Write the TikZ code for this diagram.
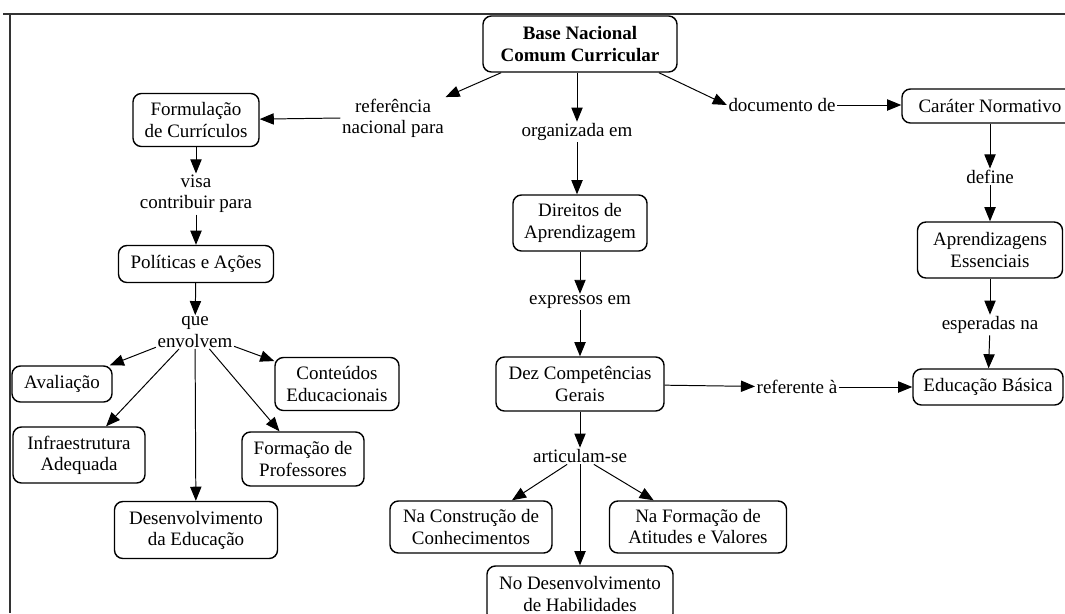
\documentclass[tikz,border=0pt]{standalone}
\usepackage{fontspec}
\setmainfont{Liberation Serif}
\usepackage{tikz}
\usetikzlibrary{arrows.meta, positioning}

\newcommand{\mapfont}{\fontsize{13.5}{15}\selectfont}

\begin{document}
\begin{tikzpicture}[
  x=0.025cm, y=-0.025cm,
  box/.style={draw, line width=1pt, rounded corners=6pt, align=center,
              inner sep=2pt, font=\mapfont},
  link/.style={align=center, inner sep=1pt, font=\mapfont},
  arrow/.style={-{Triangle[length=10pt,width=8pt]}, line width=0.7pt},
]
\useasboundingbox (0,0) rectangle (1065,613);

% Moldura
\draw[line width=1.3pt, black!80] (3,14) -- (1065,14);
\draw[line width=1.3pt, black!80] (10,14) -- (10,613);

% Conceitos
\node[box, font=\mapfont\bfseries, minimum width=4.85cm, minimum height=1.4cm] (bncc) at (580,44) {Base Nacional\\Comum Curricular};
\node[box, minimum width=3.15cm,  minimum height=1.325cm] (form)   at (196,120) {Formulação\\de Currículos};
\node[box, minimum width=4.4cm,   minimum height=0.85cm]  (car)    at (990,106) {Caráter Normativo};
\node[box, minimum width=3.35cm,  minimum height=1.4cm]   (dir)    at (580,223) {Direitos de\\Aprendizagem};
\node[box, minimum width=3.625cm, minimum height=1.4cm]   (apr)    at (990,250) {Aprendizagens\\Essenciais};
\node[box, minimum width=3.875cm, minimum height=0.925cm] (pol)    at (196,264) {Políticas e Ações};
\node[box, minimum width=2.5cm,   minimum height=0.9cm]   (aval)   at (62,384)  {Avaliação};
\node[box, minimum width=3.1cm,   minimum height=1.325cm] (cont)   at (337,384) {Conteúdos\\Educacionais};
\node[box, minimum width=4.2cm,   minimum height=1.35cm]  (dez)    at (580,384) {Dez Competências\\Gerais};
\node[box, minimum width=3.75cm,  minimum height=0.9cm]   (edb)    at (988,387) {Educação Básica};
\node[box, minimum width=3.3cm,   minimum height=1.4cm]   (infra)  at (79,455)  {Infraestrutura\\Adequada};
\node[box, minimum width=3.05cm,  minimum height=1.35cm]  (fprof)  at (303,459) {Formação de\\Professores};
\node[box, minimum width=4.075cm, minimum height=1.425cm] (desenv) at (196,530) {Desenvolvimento\\da Educação};
\node[box, minimum width=4.05cm,  minimum height=1.3cm]   (nacon)  at (471,527) {Na Construção de\\Conhecimentos};
\node[box, minimum width=4.425cm, minimum height=1.3cm]   (nafor)  at (698,527) {Na Formação de\\Atitudes e Valores};
\node[box, minimum width=4.65cm,  minimum height=1.4cm]   (hab)    at (580,594) {No Desenvolvimento\\de Habilidades};

% Frases de ligação
\node[link] (ref)    at (393,118) {referência\\nacional para};
\node[link] (org)    at (577,132) {organizada em};
\node[link] (doc)    at (782,105) {documento de};
\node[link] (visa)   at (196,194) {visa\\contribuir para};
\node[link] (define) at (990,177) {define};
\node[link] (exp)    at (580,302) {expressos em};
\node[link] (esp)    at (990,325) {esperadas na};
\node[link] (env)    at (195,332) {que\\envolvem};
\node[link] (refe)   at (797,387) {referente à};
\node[link] (art)    at (580,456) {articulam-se};

% Setas
\draw[arrow] (bncc.200) -- (ref.north east);
\draw[arrow] (ref.west) -- (form);
\draw[arrow] (bncc.south -| org) -- (org);
\draw[arrow] (org) -- (dir.north -| org);
\draw[arrow] (bncc.-20) -- (doc.west);
\draw[arrow] (doc) -- (car.west |- doc);
\draw[arrow] (form) -- (visa);
\draw[arrow] (visa) -- (pol);
\draw[arrow] (pol) -- (env);
\draw[arrow] (env) -- (aval);
\draw[arrow] (env) -- (infra);
\draw[arrow] (env) -- (desenv);
\draw[arrow] (env) -- (fprof);
\draw[arrow] (env) -- (cont);
\draw[arrow] (dir) -- (exp);
\draw[arrow] (exp) -- (dez);
\draw[arrow] (dez) -- (refe);
\draw[arrow] (refe) -- (edb);
\draw[arrow] (car.south -| define) -- (define);
\draw[arrow] (define) -- (apr);
\draw[arrow] (apr) -- (esp);
\draw[arrow] (esp) -- (edb);
\draw[arrow] (dez) -- (art);
\draw[arrow] (art) -- (nacon);
\draw[arrow] (art) -- (nafor);
\draw[arrow] (art) -- (hab);
\end{tikzpicture}
\end{document}
